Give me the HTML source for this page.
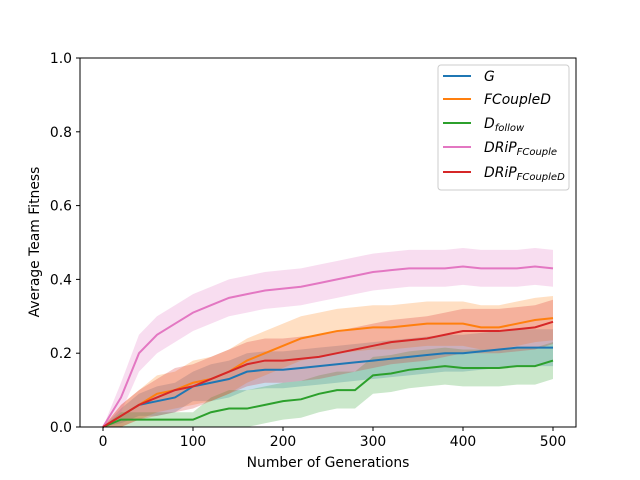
<!DOCTYPE html>
<html><head><meta charset="utf-8"><style>
body{margin:0;background:#fff}
svg{display:block;font-family:"DejaVu Sans","Liberation Sans",sans-serif}
</style></head><body>
<svg id="chart" width="640" height="480" xmlns="http://www.w3.org/2000/svg">
<rect width="640" height="480" fill="#fff"/>
<g id="bands"></g>
<g id="lines"></g>
<rect x="80" y="58" width="496" height="369" fill="none" stroke="#000" stroke-width="1"/>
<g id="axes"></g>
<text x="328" y="467" text-anchor="middle" font-size="13.9">Number of Generations</text>
<text transform="translate(39,242) rotate(-90)" text-anchor="middle" font-size="13.9">Average Team Fitness</text>
<g>
<rect x="438" y="65" width="131" height="125" rx="3" fill="#fff" fill-opacity="0.8" stroke="#ccc"/>
<g><line x1="443" y1="76" x2="471" y2="76" stroke="#1f77b4" stroke-width="2"/><text x="484" y="81" font-size="13.9" font-style="italic">G</text></g>
<g><line x1="443" y1="99" x2="471" y2="99" stroke="#ff7f0e" stroke-width="2"/><text x="484" y="104" font-size="13.9" font-style="italic">FCoupleD</text></g>
<g><line x1="443" y1="123" x2="471" y2="123" stroke="#2ca02c" stroke-width="2"/><text x="484" y="128" font-size="13.9" font-style="italic">D<tspan font-size="10" dy="3">follow</tspan></text></g>
<g><line x1="443" y1="147" x2="471" y2="147" stroke="#e377c2" stroke-width="2"/><text x="484" y="152" font-size="13.9" font-style="italic">DRiP<tspan font-size="10" dy="3">FCouple</tspan></text></g>
<g><line x1="443" y1="172" x2="471" y2="172" stroke="#d62728" stroke-width="2"/><text x="484" y="177" font-size="13.9" font-style="italic">DRiP<tspan font-size="10" dy="3">FCoupleD</tspan></text></g>
</g>
</svg>
<script>
const generations=[0,20,40,60,80,100,120,140,160,180,200,220,240,260,280,300,320,340,360,380,400,420,440,460,480,500];
const gMean=[0,0.03,0.06,0.07,0.08,0.11,0.12,0.13,0.15,0.155,0.155,0.16,0.165,0.17,0.175,0.18,0.185,0.19,0.195,0.2,0.2,0.205,0.21,0.215,0.215,0.215];
const fcoupledMean=[0,0.03,0.06,0.09,0.1,0.12,0.13,0.15,0.18,0.2,0.22,0.24,0.25,0.26,0.265,0.27,0.27,0.275,0.28,0.28,0.28,0.27,0.27,0.28,0.29,0.295];
const dfollowMean=[0,0.02,0.02,0.02,0.02,0.02,0.04,0.05,0.05,0.06,0.07,0.075,0.09,0.1,0.1,0.14,0.145,0.155,0.16,0.165,0.16,0.16,0.16,0.165,0.165,0.18];
const dripFcoupleMean=[0,0.08,0.2,0.25,0.28,0.31,0.33,0.35,0.36,0.37,0.375,0.38,0.39,0.4,0.41,0.42,0.425,0.43,0.43,0.43,0.435,0.43,0.43,0.43,0.435,0.43];
const dripFcoupledMean=[0,0.03,0.06,0.08,0.1,0.11,0.13,0.15,0.17,0.18,0.18,0.185,0.19,0.2,0.21,0.22,0.23,0.235,0.24,0.25,0.26,0.26,0.26,0.265,0.27,0.285];
const gSpread=[0,0.02,0.03,0.04,0.04,0.04,0.05,0.05,0.05,0.05,0.05,0.05,0.05,0.05,0.05,0.05,0.05,0.05,0.05,0.05,0.05,0.05,0.05,0.05,0.05,0.05];
const fcoupledSpread=[0,0.03,0.04,0.05,0.05,0.06,0.06,0.06,0.06,0.06,0.06,0.06,0.06,0.06,0.06,0.06,0.06,0.06,0.06,0.06,0.06,0.06,0.06,0.06,0.06,0.06];
const dfollowSpread=[0,0.02,0.02,0.02,0.02,0.02,0.04,0.05,0.05,0.05,0.05,0.05,0.05,0.05,0.05,0.05,0.05,0.05,0.05,0.05,0.05,0.05,0.05,0.05,0.05,0.05];
const dripFcoupleSpread=[0,0.04,0.05,0.05,0.05,0.05,0.05,0.05,0.05,0.05,0.05,0.05,0.05,0.05,0.05,0.05,0.05,0.05,0.05,0.05,0.05,0.05,0.05,0.05,0.05,0.05];
const dripFcoupledSpread=[0,0.03,0.04,0.05,0.06,0.06,0.06,0.06,0.06,0.06,0.06,0.06,0.06,0.06,0.06,0.06,0.06,0.06,0.06,0.06,0.06,0.06,0.06,0.06,0.06,0.06];
const xTicks=[0,100,200,300,400,500];
const yTicks=[0,0.2,0.4,0.6,0.8,1.0];
const yTickLabels=["0.0","0.2","0.4","0.6","0.8","1.0"];

const NS="http://www.w3.org/2000/svg";
const X=v=>103+v*0.9;
const Y=v=>427-v*369;
const series=[
 {name:"g",mean:gMean,spread:gSpread,color:"#1f77b4"},
 {name:"fcoupled",mean:fcoupledMean,spread:fcoupledSpread,color:"#ff7f0e"},
 {name:"dfollow",mean:dfollowMean,spread:dfollowSpread,color:"#2ca02c"},
 {name:"drip-fcouple",mean:dripFcoupleMean,spread:dripFcoupleSpread,color:"#e377c2"},
 {name:"drip-fcoupled",mean:dripFcoupledMean,spread:dripFcoupledSpread,color:"#d62728"}
];
const bands=document.getElementById('bands'),lines=document.getElementById('lines'),axes=document.getElementById('axes');
series.forEach(s=>{
  const up=generations.map((g,i)=>X(g)+","+Y(Math.min(1,s.mean[i]+s.spread[i])));
  const lo=generations.map((g,i)=>X(g)+","+Y(Math.max(0,s.mean[i]-s.spread[i]))).reverse();
  const p=document.createElementNS(NS,'polygon');
  p.setAttribute('points',up.concat(lo).join(' '));
  p.setAttribute('fill',s.color);p.setAttribute('fill-opacity','0.25');
  
  
  bands.appendChild(p);
  const l=document.createElementNS(NS,'polyline');
  l.setAttribute('points',generations.map((g,i)=>X(g)+","+Y(s.mean[i])).join(' '));
  l.setAttribute('fill','none');l.setAttribute('stroke',s.color);l.setAttribute('stroke-width','2');
  
  
  lines.appendChild(l);
});
xTicks.forEach(t=>{
  const ln=document.createElementNS(NS,'line');
  ln.setAttribute('x1',X(t));ln.setAttribute('x2',X(t));ln.setAttribute('y1',427);ln.setAttribute('y2',431);ln.setAttribute('stroke','#000');
  
  
  axes.appendChild(ln);
  const tx=document.createElementNS(NS,'text');
  tx.setAttribute('x',X(t));tx.setAttribute('y',446);tx.setAttribute('text-anchor','middle');tx.setAttribute('font-size','13.9');
  tx.textContent=t;
  
  
  axes.appendChild(tx);
});
yTicks.forEach((t,i)=>{
  const ln=document.createElementNS(NS,'line');
  ln.setAttribute('x1',76);ln.setAttribute('x2',80);ln.setAttribute('y1',Y(t));ln.setAttribute('y2',Y(t));ln.setAttribute('stroke','#000');
  
  
  axes.appendChild(ln);
  const tx=document.createElementNS(NS,'text');
  tx.setAttribute('x',72);tx.setAttribute('y',Y(t)+5);tx.setAttribute('text-anchor','end');tx.setAttribute('font-size','13.9');
  tx.textContent=yTickLabels[i];
  
  
  axes.appendChild(tx);
});
</script>
</body></html>
